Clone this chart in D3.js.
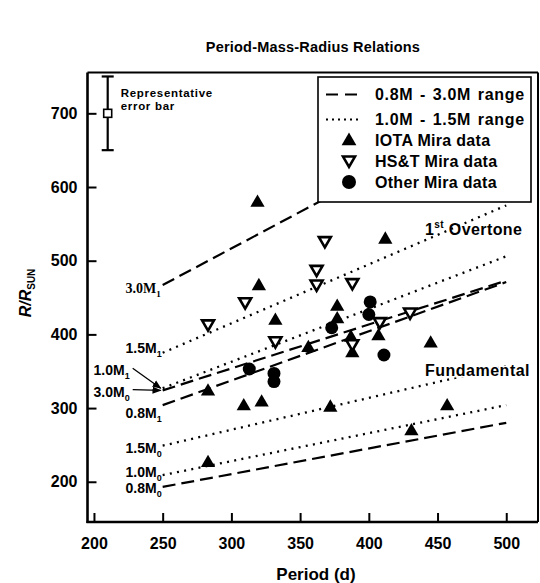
<!DOCTYPE html>
<html><head><meta charset="utf-8">
<script src="https://cdn.jsdelivr.net/npm/d3@7"></script>
<style>
html,body{margin:0;padding:0;background:#fff;}
svg{display:block;font-family:"Liberation Sans",Arial,Helvetica,sans-serif;font-weight:bold;}
</style></head><body>
<svg id="chart" width="540" height="583"></svg>
<script>
// ---------------- data ----------------
const xTicks = [200, 250, 300, 350, 400, 450, 500];
const yTicks = [200, 300, 400, 500, 600, 700];

// Model period-radius relations (R/Rsun at P = 250 d and P = 500 d)
const modelNames = ["3.0M1", "1.5M1", "1.0M1", "3.0M0", "0.8M1", "1.5M0", "1.0M0", "0.8M0"];
const modelMass  = ["3.0", "1.5", "1.0", "3.0", "0.8", "1.5", "1.0", "0.8"];
const modelMode  = ["1", "1", "1", "0", "1", "0", "0", "0"];
const modelP     = [250, 500];
const modelR250  = [467, 375, 327, 324, 304, 249, 209, 193];
const modelR500  = [715, 575, 506, 473, 471, 357, 304, 280];

// IOTA Mira data (filled up-triangles)
const iotaP = [319, 412, 320, 332, 377, 377, 356, 387, 388, 407, 445, 283, 309, 322, 372, 283, 457, 431];
const iotaR = [580, 530, 467, 420, 439, 422, 383, 397, 376, 399, 389, 324, 304, 309, 302, 227, 304, 270];

// HS&T Mira data (open down-triangles)
const hstP = [283, 310, 332, 362, 362, 368, 388, 430, 408, 388];
const hstR = [413, 443, 390, 487, 467, 526, 469, 429, 416, 386];

// Other Mira data (filled circles)
const otherP = [313, 331, 331, 373, 401, 400, 411];
const otherR = [353, 347, 336, 409, 444, 427, 372];

// Representative error bar
const errP = 210, errR = 700, errD = 50;

const legendLabels = ["0.8M - 3.0M range", "1.0M - 1.5M range", "IOTA Mira data", "HS&T Mira data", "Other Mira data"];
const titleText = "Period-Mass-Radius Relations";
const xLabel = "Period (d)";

// ---------------- layout ----------------
const svg = d3.select("#chart");
const L = 87.5, R = 538, T = 72.5, B = 522;
const x = d3.scaleLinear().domain([195.3, 523.1]).range([L, R]);
const y = d3.scaleLinear().domain([145.4, 755.4]).range([B, T]);

// title
svg.append("text").attr("x", 313).attr("y", 52).attr("text-anchor", "middle")
  .attr("font-size", 14.5).attr("letter-spacing", 0.2).text(titleText);

// axes
const gx = svg.append("g").attr("transform", `translate(0,${B})`)
  .call(d3.axisBottom(x).tickValues(xTicks).tickSize(-9).tickSizeOuter(0).tickPadding(16));
const gy = svg.append("g").attr("transform", `translate(${L},0)`)
  .call(d3.axisLeft(y).tickValues(yTicks).tickSize(-9).tickSizeOuter(0).tickPadding(10));
[gx, gy].forEach(g => {
  g.select(".domain").remove();
  g.selectAll(".tick line").attr("stroke", "#000").attr("stroke-width", 2);
  g.selectAll(".tick text").attr("font-size", 16).attr("font-weight", "bold")
    .attr("font-family", '"Liberation Sans",Arial,sans-serif').attr("fill", "#000");
});

// frame
svg.append("line").attr("x1", L).attr("x2", L).attr("y1", T).attr("y2", B + 1).attr("stroke", "#000").attr("stroke-width", 2.6);
svg.append("line").attr("x1", L - 1).attr("x2", R).attr("y1", B).attr("y2", B).attr("stroke", "#000").attr("stroke-width", 2.6);
svg.append("line").attr("x1", L).attr("x2", R).attr("y1", T).attr("y2", T).attr("stroke", "#000").attr("stroke-width", 2);
svg.append("line").attr("x1", R).attr("x2", R).attr("y1", T).attr("y2", B).attr("stroke", "#000").attr("stroke-width", 2);

// axis titles
svg.append("text").attr("x", 316).attr("y", 580).attr("text-anchor", "middle")
  .attr("font-size", 17).text(xLabel);
const yl = svg.append("text").attr("transform", "translate(31,293) rotate(-90)")
  .attr("text-anchor", "middle").attr("font-size", 16);
yl.append("tspan").attr("font-style", "italic").text("R/R");
yl.append("tspan").attr("font-size", 10).attr("dy", 4).text("SUN");

// model lines
const isDashed = m => (m === "0.8" || m === "3.0");
const models = modelNames.map((n, i) => ({
  name: n, mass: modelMass[i], mode: modelMode[i],
  pts: [[modelP[0], modelR250[i]], [modelP[1], modelR500[i]]]
}));
const line = d3.line().x(d => x(d[0])).y(d => y(d[1]));
svg.append("g").selectAll("path").data(models).join("path")
  .attr("d", d => line(d.pts)).attr("fill", "none").attr("stroke", "#000")
  .attr("stroke-width", d => isDashed(d.mass) ? 2.2 : 2.3)
  .attr("stroke-dasharray", d => isDashed(d.mass) ? "13,6" : "2,5.3");

// data points
const tri = d3.symbol().type(d3.symbolTriangle).size(88);
const gp = svg.append("g");
gp.selectAll("path.iota").data(iotaP.map((p, i) => [p, iotaR[i]])).join("path")
  .attr("class", "iota").attr("d", tri)
  .attr("transform", d => `translate(${x(d[0])},${y(d[1]) + 1})`).attr("fill", "#000");
gp.selectAll("path.hst").data(hstP.map((p, i) => [p, hstR[i]])).join("path")
  .attr("class", "hst").attr("d", d3.symbol().type(d3.symbolTriangle).size(62))
  .attr("transform", d => `translate(${x(d[0])},${y(d[1]) - 1}) rotate(180)`)
  .attr("fill", "#fff").attr("stroke", "#000").attr("stroke-width", 2.6);
gp.selectAll("circle").data(otherP.map((p, i) => [p, otherR[i]])).join("circle")
  .attr("cx", d => x(d[0])).attr("cy", d => y(d[1])).attr("r", 6.5).attr("fill", "#000");

// legend
const lg = svg.append("g");
lg.append("rect").attr("x", 318).attr("y", 77).attr("width", 213).attr("height", 125)
  .attr("fill", "#fff").attr("stroke", "#000").attr("stroke-width", 1.6);
const rowY = [94.5, 119.5, 140, 161, 182];
lg.append("line").attr("x1", 326).attr("x2", 357).attr("y1", rowY[0]).attr("y2", rowY[0])
  .attr("stroke", "#000").attr("stroke-width", 2.2).attr("stroke-dasharray", "12,7");
lg.append("line").attr("x1", 326).attr("x2", 358).attr("y1", rowY[1]).attr("y2", rowY[1])
  .attr("stroke", "#000").attr("stroke-width", 2).attr("stroke-dasharray", "2,4");
lg.append("path").attr("d", d3.symbol().type(d3.symbolTriangle).size(95))
  .attr("transform", `translate(349,${rowY[2] + 1})`).attr("fill", "#000");
lg.append("path").attr("d", d3.symbol().type(d3.symbolTriangle).size(62))
  .attr("transform", `translate(349,${rowY[3] - 1}) rotate(180)`)
  .attr("fill", "#fff").attr("stroke", "#000").attr("stroke-width", 2.6);
lg.append("circle").attr("cx", 349).attr("cy", rowY[4]).attr("r", 7).attr("fill", "#000");
lg.selectAll("text").data(legendLabels).join("text")
  .attr("x", 375).attr("y", (d, i) => rowY[i] + 5.5)
  .attr("font-size", 16)
  .attr("letter-spacing", (d, i) => i < 2 ? 0.7 : 0.3)
  .attr("word-spacing", (d, i) => i < 2 ? 1.5 : 0)
  .text(d => d);

// error bar
const ex = x(errP);
const eg = svg.append("g").attr("stroke", "#000");
eg.append("line").attr("x1", ex).attr("x2", ex).attr("y1", y(errR + errD)).attr("y2", y(errR - errD)).attr("stroke-width", 2.2);
[errR + errD, errR - errD].forEach(v => eg.append("line").attr("x1", ex - 6).attr("x2", ex + 6)
  .attr("y1", y(v)).attr("y2", y(v)).attr("stroke-width", 2.2));
eg.append("rect").attr("x", ex - 4).attr("y", y(errR) - 4).attr("width", 8).attr("height", 8)
  .attr("fill", "#fff").attr("stroke-width", 1.6);
svg.append("text").attr("x", ex + 13).attr("y", y(errR) - 16).attr("font-size", 11.5).attr("letter-spacing", 0.7).text("Representative");
svg.append("text").attr("x", ex + 13).attr("y", y(errR) - 3.5).attr("font-size", 11.5).attr("letter-spacing", 0.7).text("error bar");

// mass labels on model lines
const defs = svg.append("defs");
defs.append("marker").attr("id", "arr").attr("viewBox", "0 0 10 10").attr("refX", 9).attr("refY", 5)
  .attr("markerWidth", 7).attr("markerHeight", 7).attr("orient", "auto")
  .append("path").attr("d", "M0,1 L10,5 L0,9 Z").attr("fill", "#000");
// label layout: [dx of label end, dy of label centre] relative to the line start
const labelLayout = {
  "3.0M1": [-2, 3], "1.5M1": [-1, -4.5], "1.0M1": [-33, -18], "3.0M0": [-33, 1.3],
  "0.8M1": [-1, 8], "1.5M0": [-1, 2.6], "1.0M0": [-1, -3.5], "0.8M0": [-1, 1.3]
};
models.forEach(m => {
  const x0 = x(modelP[0]), y0 = y(m.pts[0][1]);
  const [dx, dy] = labelLayout[m.name];
  const t = svg.append("text").attr("x", x0 + dx).attr("y", y0 + dy + 5).attr("text-anchor", "end")
    .attr("font-size", 14);
  if (m.name === "3.0M1") t.attr("font-family", '"Liberation Serif","Times New Roman",serif');
  t.append("tspan").text(m.mass + "M");
  t.append("tspan").attr("font-size", 9).attr("dy", 4).text(m.mode);
  if (dx < -10) {
    svg.append("line").attr("x1", x0 + dx + 3).attr("y1", y0 + dy - 2)
      .attr("x2", x0 - 2).attr("y2", y0).attr("stroke", "#000").attr("stroke-width", 1.3)
      .attr("marker-end", "url(#arr)");
  }
});

// mode labels
const ot = svg.append("text").attr("x", 425).attr("y", 235).attr("font-size", 16).attr("letter-spacing", 0.4);
ot.append("tspan").text("1");
ot.append("tspan").attr("font-size", 10).attr("dy", -7).text("st");
ot.append("tspan").attr("dy", 7).text(" Overtone");
svg.append("text").attr("x", 425).attr("y", 376).attr("font-size", 16).attr("letter-spacing", 0.5)
  .attr("stroke", "#fff").attr("stroke-width", 3).attr("paint-order", "stroke").text("Fundamental");
</script>
</body></html>
